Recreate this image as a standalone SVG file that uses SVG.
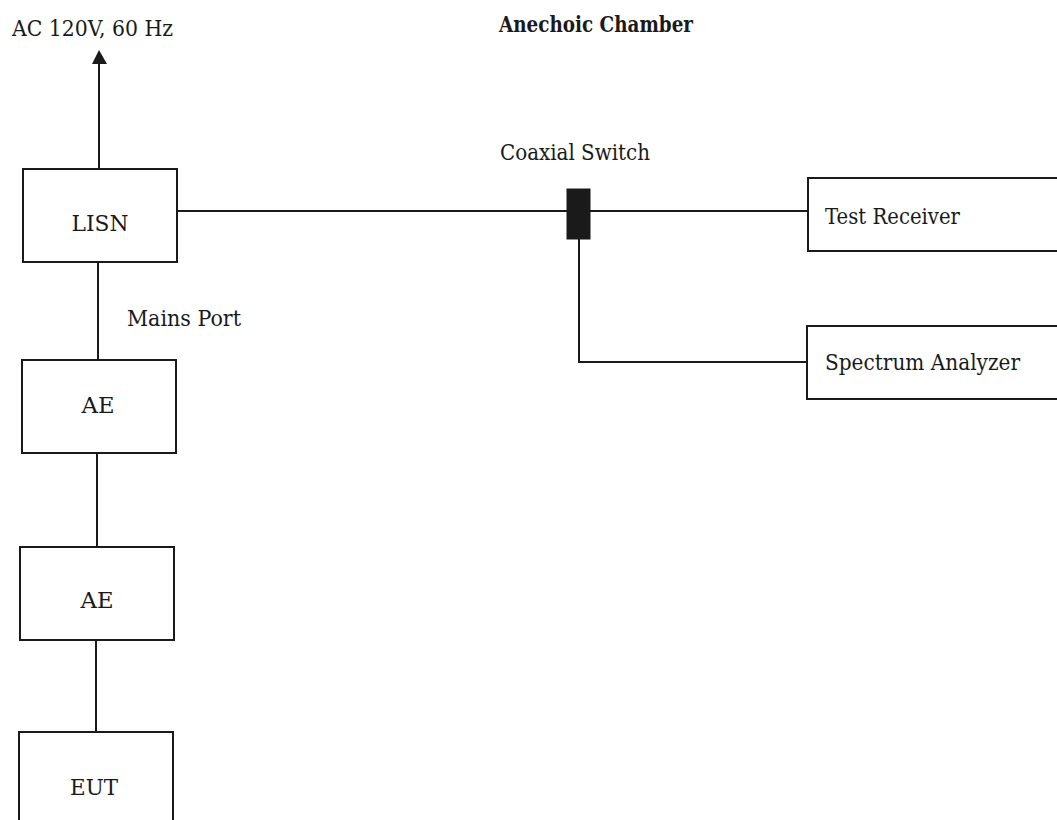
<svg xmlns="http://www.w3.org/2000/svg" width="1057" height="820" viewBox="0 0 1057 820">
<style>
.box{fill:#fff;stroke:#1a1a1a;stroke-width:2}
.ln{fill:none;stroke:#1a1a1a;stroke-width:2}
text{font-family:"DejaVu Serif","Liberation Serif",serif;font-size:23px;fill:#1a1a1a}
.b{font-weight:bold}
.c{text-anchor:middle}
</style>
<rect width="1057" height="820" fill="#fff"/>
<text x="12" y="36" textLength="161" lengthAdjust="spacingAndGlyphs">AC 120V, 60 Hz</text>
<text class="b" x="499" y="32" textLength="194" lengthAdjust="spacingAndGlyphs">Anechoic Chamber</text>
<text x="500" y="160" textLength="150" lengthAdjust="spacingAndGlyphs">Coaxial Switch</text>
<text x="127" y="326" textLength="114" lengthAdjust="spacingAndGlyphs">Mains Port</text>
<g id="connectors">
<line class="ln" x1="99" y1="169" x2="99" y2="63"/>
<path d="M99,50 L92,64 L107,64 z" fill="#1a1a1a"/>
<line class="ln" x1="98" y1="262" x2="98" y2="360"/>
<line class="ln" x1="97" y1="453" x2="97" y2="547"/>
<line class="ln" x1="96" y1="640" x2="96" y2="732"/>
<line class="ln" x1="177" y1="211" x2="567" y2="211"/>
<line class="ln" x1="590" y1="211" x2="808" y2="211"/>
<polyline class="ln" points="579,239 579,362 807,362"/>
</g>
<g id="lisn">
<rect class="box" x="23" y="169" width="154" height="93"/>
<text class="c" x="100" y="231" textLength="57" lengthAdjust="spacingAndGlyphs">LISN</text>
</g>
<g id="ae1">
<rect class="box" x="22" y="360" width="154" height="93"/>
<text class="c" x="98" y="413" textLength="33" lengthAdjust="spacingAndGlyphs">AE</text>
</g>
<g id="ae2">
<rect class="box" x="20" y="547" width="154" height="93"/>
<text class="c" x="97" y="608" textLength="33" lengthAdjust="spacingAndGlyphs">AE</text>
</g>
<g id="eut">
<rect class="box" x="19" y="732" width="154" height="100"/>
<text class="c" x="94" y="795" textLength="48" lengthAdjust="spacingAndGlyphs">EUT</text>
</g>
<g id="switch">
<rect x="567" y="189" width="23" height="50" fill="#1a1a1a" stroke="#1a1a1a" stroke-width="1"/>
</g>
<g id="test-receiver">
<rect class="box" x="808" y="178" width="270" height="73"/>
<text x="825" y="224" textLength="135" lengthAdjust="spacingAndGlyphs">Test Receiver</text>
</g>
<g id="spectrum-analyzer">
<rect class="box" x="807" y="326" width="270" height="73"/>
<text x="825" y="370" textLength="195" lengthAdjust="spacingAndGlyphs">Spectrum Analyzer</text>
</g>
</svg>
